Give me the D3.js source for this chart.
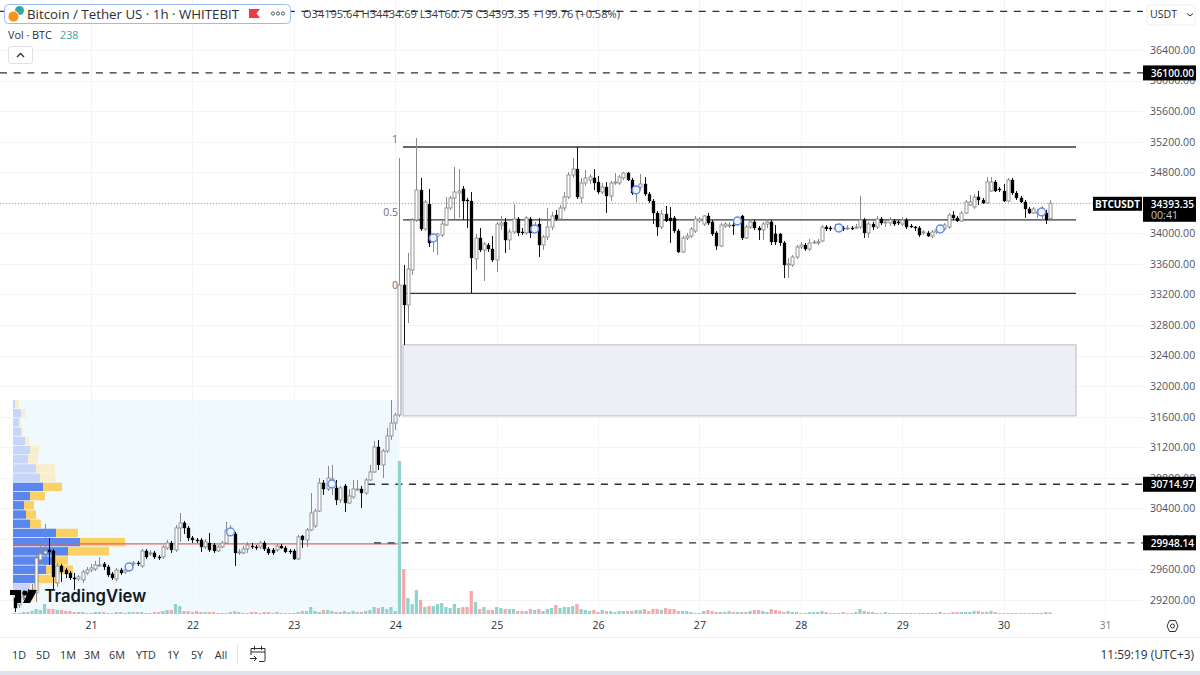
<!DOCTYPE html>
<html>
<head>
<meta charset="utf-8">
<title>Bitcoin / Tether US 1h</title>
<style>
    html, body { margin: 0; padding: 0; background: #fff; overflow: hidden; }
    svg { display: block; font-family: "Open Sans", sans-serif; }
</style>
</head>
<body>
<svg id="chart" width="1200" height="675"></svg>
<script src="https://d3js.org/d3.v7.min.js"></script>
<script>
// hourly candles (first one is 20 Oct 06:00)
var opens = [
    29227,29135,29240,29305,29253,29292,29724,29803,29855,29842,
    29423,29646,29593,29554,29489,29475,29462,29554,29593,29606,
    29646,29672,29633,29541,29475,29593,29567,29593,29672,29685,
    29646,29842,29803,29816,29763,29763,29881,29946,29855,30143,
    30209,30143,30012,29986,29986,29894,29946,29920,29842,29894,
    29946,30065,30065,29816,29816,29868,29907,29894,29894,29946,
    29868,29855,29855,29907,29881,29842,29842,29737,30038,29986,
    30117,30169,30365,30732,30653,30706,30667,30509,30693,30470,
    30549,30640,30653,30601,30771,30876,31203,30968,31151,31347,
    31517,31622,33324,33062,33520,34175,34567,34057,34384,33913,
    33965,33978,34109,34332,34463,34528,34581,34436,34423,33664,
    33939,33782,33847,33795,33651,34109,34149,33913,34018,34188,
    34018,34005,34188,34044,34122,33847,33952,34083,34240,34188,
    34332,34476,34764,34842,34463,34659,34698,34725,34672,34541,
    34607,34489,34659,34659,34725,34790,34698,34528,34607,34646,
    34515,34423,34266,34083,34253,34201,34201,34031,33756,33939,
    33965,34031,34162,34122,34227,34149,34005,33834,34096,34096,
    34109,34135,34227,33939,34083,34149,34070,34044,34122,34149,
    33992,33992,33874,33586,33586,33690,33821,33847,33795,33874,
    33874,33900,34083,34070,34057,34057,34070,34057,34070,34070,
    34083,34175,34005,34122,34083,34188,34135,34135,34162,34149,
    34122,34175,34096,34083,34070,34005,34005,33965,34018,34044,
    34057,34083,34240,34201,34162,34266,34371,34345,34476,34436,
    34397,34554,34672,34581,34554,34423,34698,34528,34463,34410,
    34319,34266,34266,34266,34266,34195.64
];
var highs = [
    29266,29292,29332,29345,29410,29790,29920,30195,30012,29868,
    29685,29672,29620,29580,29554,29528,29593,29633,29672,29711,
    29763,29698,29659,29567,29620,29620,29620,29659,29711,29711,
    29868,29868,29855,29842,29790,29920,29986,29973,30182,30339,
    30235,30169,30038,30012,30012,29999,30078,29946,29920,29973,
    30222,30182,30091,29868,29907,29960,29946,29920,29973,29973,
    29894,29881,29933,29933,29907,29868,29868,30052,30052,30143,
    30600,30392,30797,30771,30955,30968,30771,30693,30719,30653,
    30771,30771,30693,30797,30968,31282,31295,31177,31452,31818,
    31648,34986,33586,33743,34201,35248,34725,34436,34581,34005,
    34005,34162,34476,34489,34868,34842,34620,34463,34541,33992,
    34070,33887,33874,33965,34149,34227,34201,34057,34384,34214,
    34070,34227,34214,34149,34201,33978,34332,34280,34306,34371,
    34541,34803,34986,35130,34725,34829,34777,34842,34751,34659,
    34672,34685,34790,34764,34803,34803,34725,34633,34777,34738,
    34541,34450,34293,34306,34358,34345,34227,34057,33965,34005,
    34083,34227,34214,34240,34266,34175,34031,34135,34149,34149,
    34135,34201,34240,34109,34188,34175,34096,34149,34188,34175,
    34109,34005,33900,33677,33716,33847,33887,33874,33926,33913,
    33926,34109,34109,34096,34122,34096,34096,34109,34096,34122,
    34489,34201,34149,34149,34227,34214,34175,34214,34188,34175,
    34214,34201,34122,34096,34096,34044,34031,34044,34070,34109,
    34135,34266,34293,34227,34293,34436,34502,34515,34554,34463,
    34738,34738,34698,34607,34646,34725,34725,34554,34489,34436,
    34345,34345,34319,34358,34306,34434.69
];
var lows = [
    29043,29095,29200,29240,29213,29174,29685,29659,29659,29332,
    29371,29436,29489,29462,29332,29449,29423,29528,29567,29580,
    29633,29593,29502,29462,29449,29528,29541,29567,29646,29646,
    29620,29737,29777,29737,29724,29737,29855,29816,29829,29960,
    30065,29973,29946,29946,29829,29868,29829,29816,29829,29881,
    29933,30052,29646,29790,29803,29816,29868,29855,29868,29842,
    29790,29790,29829,29868,29816,29803,29724,29724,29881,29894,
    30104,30143,30352,30575,30627,30575,30444,30470,30352,30457,
    30523,30627,30405,30575,30758,30863,30902,30797,31125,31295,
    31426,31596,32539,32826,33455,34149,34031,34031,33821,33756,
    33716,33952,34096,34306,34188,34201,34175,34070,33219,33520,
    33756,33376,33756,33625,33494,34044,33743,33782,33992,33965,
    33978,33978,33939,34018,33690,33782,33913,34044,34162,34162,
    34293,34450,34725,34450,34397,34620,34646,34567,34515,34515,
    34266,34423,34633,34633,34698,34685,34502,34410,34567,34489,
    34397,34122,33965,34057,34149,33874,34005,33743,33743,33913,
    33939,34005,34135,34096,34109,33965,33782,33821,34070,34070,
    33978,34096,33913,33926,34057,34044,33913,33913,34070,33847,
    33847,33834,33415,33415,33560,33664,33795,33769,33769,33861,
    33847,33887,34031,34031,34031,34031,34031,34044,34044,34057,
    34057,33939,33939,34044,34057,34109,34083,34096,34096,34109,
    34096,34057,34070,34031,33952,33978,33952,33939,33992,34018,
    34031,34057,34175,34149,34149,34253,34358,34319,34371,34384,
    34384,34541,34541,34541,34410,34410,34502,34436,34397,34201,
    34253,34253,34201,34175,34122,34160.75
];
var closes = [
    29095,29253,29305,29253,29332,29750,29803,29842,29829,29502,
    29646,29567,29541,29489,29475,29502,29567,29593,29620,29659,
    29659,29633,29528,29489,29593,29554,29593,29633,29685,29672,
    29842,29763,29816,29763,29750,29894,29946,29855,30143,30209,
    30143,30012,29986,29973,29894,29960,29855,29842,29894,29946,
    30117,30091,29816,29829,29868,29920,29894,29881,29946,29868,
    29816,29816,29907,29881,29829,29829,29737,30025,29986,30117,
    30339,30365,30732,30653,30797,30784,30509,30667,30470,30562,
    30653,30653,30601,30771,30876,31203,30968,31151,31347,31517,
    31622,33324,33062,33533,34175,34567,34057,34410,33874,33939,
    33992,34122,34332,34463,34541,34554,34423,34423,33677,33939,
    33782,33861,33795,33651,34122,34135,33913,34018,34188,34005,
    34005,34201,34005,34083,33847,33952,34083,34227,34188,34332,
    34476,34764,34842,34476,34659,34725,34738,34659,34541,34607,
    34489,34659,34672,34738,34790,34698,34528,34567,34646,34515,
    34423,34266,34083,34253,34162,34162,34031,33756,33939,33965,
    34057,34188,34188,34227,34135,33992,33834,34109,34122,34109,
    34096,34162,33939,34083,34149,34070,34044,34122,34149,33887,
    33887,33874,33586,33599,33690,33821,33847,33795,33874,33887,
    33887,34083,34057,34057,34070,34070,34057,34070,34057,34083,
    34175,34005,34122,34083,34188,34135,34149,34175,34122,34135,
    34175,34083,34083,34070,33978,34018,33965,34018,34044,34057,
    34109,34240,34201,34162,34266,34410,34410,34476,34436,34397,
    34672,34672,34554,34567,34423,34698,34528,34463,34410,34319,
    34266,34319,34280,34280,34175,34393.35
];
var volumes = [
    140,140,280,280,420,700,560,1400,700,700,
    560,560,420,420,280,280,280,140,140,280,
    280,280,140,140,280,280,140,280,280,280,
    280,140,140,280,280,420,560,560,1400,1120,
    420,420,280,420,280,280,280,280,140,140,
    140,280,420,280,140,140,280,280,140,280,
    280,140,280,140,140,140,140,280,420,420,
    980,420,280,560,560,420,280,280,420,280,
    420,280,280,420,560,980,840,980,700,980,
    420,21420,6300,2240,1400,3360,1960,980,1120,1120,
    1400,1540,980,840,1400,840,980,980,3220,1680,
    700,980,560,560,980,840,700,700,700,420,
    420,420,700,560,700,420,700,840,1260,840,
    980,980,1120,1400,700,560,420,560,280,560,
    420,420,280,420,420,420,420,560,560,700,
    420,700,700,560,840,700,700,420,420,420,
    280,140,140,420,560,420,280,280,280,420,
    280,280,280,280,420,560,560,420,280,700,
    560,420,280,420,280,280,140,140,280,280,
    280,420,280,140,140,140,280,140,140,280,
    700,420,280,280,140,140,280,140,140,140,
    140,140,140,140,140,140,140,140,140,280,
    140,140,280,280,280,280,280,420,420,280,
    280,420,280,140,140,140,140,140,140,140,
    140,140,140,140,280,238
];

// visible range volume profile, top row first
var vpUp = [2,8,6,8,12,17,15,23,27,30,17,11,13,17,43,67,55,41,33,24,17,7];
var vpDown = [4,5,2,2,4,9,10,19,15,19,15,10,10,11,22,45,41,14,27,21,10,15];
var vpValueArea = [9, 19]; // rows that are drawn solid
var vpTop = 31820, vpRowSize = 120.5;
var pocPrice = 29935;

// 34400 sits fully under the last price tag, so it gets no label
var priceTicks = [36400,36000,35600,35200,34800,34000,33600,33200,32800,32400,32000,31600,31200,30800,30400,30000,29600,29200];
var dayLabels = ["21","22","23","24","25","26","27","28","29","30","31"];
var dayIndex = [18,42,66,90,114,138,162,186,210,234,258];
var markerIndex = [3,27,51,75,99,123,147,171,195,219,243];
var markerPrice = [29253,29633,30091,30719,33939,34057,34567,34162,34070,34057,34280];

var fibLevels = [35130, 34175, 33215];
var fibLabels = ["1", "0.5", "0"];
var zoneTop = 32540, zoneBottom = 31610;
var dashedLevels = [36905, 36100, 30714.97, 29948.14];
var dashedLabels = ["", "36100.00", "30714.97", "29948.14"];
var dashedStart = [0, 0, 368, 374];
var lastPrice = 34393.35;
var rangeButtons = ["1D","5D","1M","3M","6M","YTD","1Y","5Y","All"];
var rangeButtonX = [19,43,68,92,117,146,173,197,221];

var svg = d3.select("#chart");
var chartRight = 1143;

var x = d3.scaleLinear().domain([0, 245]).range([15, 1050.1]);
var y = d3.scaleLinear().domain([29200, 36400]).range([600, 50]);
var volY = d3.scaleLinear().domain([0, 21420]).range([614, 461]);
var vpX = d3.scaleLinear().domain([0, 112]).range([13, 125]);

var UP_VOL = "#92d2cc", DOWN_VOL = "#f7a9a7";

// grid
var grid = svg.append("g");
grid.selectAll(".h").data(priceTicks.concat([34400])).enter().append("line")
    .attr("x1", 0).attr("x2", chartRight)
    .attr("y1", function(d) { return Math.round(y(d)) + 0.5; })
    .attr("y2", function(d) { return Math.round(y(d)) + 0.5; })
    .attr("stroke", "#f2f4f8");
grid.selectAll(".v").data(dayIndex).enter().append("line")
    .attr("y1", 0).attr("y2", 614)
    .attr("x1", function(d) { return Math.round(x(d)) + 0.5; })
    .attr("x2", function(d) { return Math.round(x(d)) + 0.5; })
    .attr("stroke", "#f2f4f8");

// volume profile background and rows
svg.append("rect")
    .attr("x", 13).attr("width", x(91) - 13)
    .attr("y", y(vpTop)).attr("height", 614 - y(vpTop))
    .attr("fill", "#eaf7fd").attr("fill-opacity", 0.7);

var rowH = y(vpTop - vpRowSize) - y(vpTop);
var inVA = function(i) { return i >= vpValueArea[0] && i <= vpValueArea[1]; };
var vp = svg.append("g");
vp.selectAll(".up").data(vpUp).enter().append("rect")
    .attr("x", vpX(0))
    .attr("y", function(d, i) { return y(vpTop) + i * rowH; })
    .attr("width", function(d) { return vpX(d) - vpX(0); })
    .attr("height", rowH - 0.8)
    .attr("fill", function(d, i) { return inVA(i) ? "#5b86ee" : "#c7d5fb"; });
vp.selectAll(".down").data(vpDown).enter().append("rect")
    .attr("x", function(d, i) { return vpX(vpUp[i]); })
    .attr("y", function(d, i) { return y(vpTop) + i * rowH; })
    .attr("width", function(d) { return vpX(d) - vpX(0); })
    .attr("height", rowH - 0.8)
    .attr("fill", function(d, i) { return inVA(i) ? "#fbd163" : "#f9eecb"; });

svg.append("line")
    .attr("x1", 13).attr("x2", x(91))
    .attr("y1", y(pocPrice)).attr("y2", y(pocPrice))
    .attr("stroke", "#e8625c").attr("stroke-width", 1.2);

// grey zone under the range
svg.append("rect")
    .attr("x", 403).attr("width", 1076 - 403)
    .attr("y", y(zoneTop)).attr("height", y(zoneBottom) - y(zoneTop))
    .attr("fill", "#eeeff4").attr("stroke", "#b9bcc6");

// last price line
svg.append("line")
    .attr("x1", 0).attr("x2", 1093)
    .attr("y1", y(lastPrice)).attr("y2", y(lastPrice))
    .attr("stroke", "#9a9ea8").attr("stroke-dasharray", "1 2");

// dashed levels
svg.selectAll(".lvl").data(dashedLevels).enter().append("line")
    .attr("x1", function(d, i) { return dashedStart[i]; })
    .attr("x2", chartRight)
    .attr("y1", function(d) { return y(d); })
    .attr("y2", function(d) { return y(d); })
    .attr("stroke", "#2a2e39").attr("stroke-width", 1.4)
    .attr("stroke-dasharray", "7 6.7");

// fib lines
svg.selectAll(".fib").data(fibLevels).enter().append("line")
    .attr("x1", 403).attr("x2", 1076)
    .attr("y1", function(d) { return y(d); })
    .attr("y2", function(d) { return y(d); })
    .attr("stroke", "#33363f").attr("stroke-width", 1.3);
svg.selectAll(".fibl").data(fibLabels).enter().append("text")
    .attr("x", 398)
    .attr("y", function(d, i) { return y(fibLevels[i]) - 4; })
    .attr("text-anchor", "end")
    .attr("font-size", 10.5).attr("fill", "#6a6d78")
    .text(function(d) { return d; });

// volume bars
svg.selectAll(".vol").data(volumes).enter().append("rect")
    .attr("x", function(d, i) { return x(i) - 1.6; })
    .attr("width", 3.2)
    .attr("y", function(d) { return volY(d); })
    .attr("height", function(d) { return volY(0) - volY(d); })
    .attr("fill", function(d, i) { return closes[i] >= opens[i] ? UP_VOL : DOWN_VOL; });

// candles
var candles = svg.append("g");
candles.selectAll("line").data(closes).enter().append("line")
    .attr("x1", function(d, i) { return Math.round(x(i)) + 0.5; })
    .attr("x2", function(d, i) { return Math.round(x(i)) + 0.5; })
    .attr("y1", function(d, i) { return y(highs[i]); })
    .attr("y2", function(d, i) { return y(lows[i]); })
    .attr("stroke", function(d, i) { return d >= opens[i] ? "#8a8a8a" : "#111"; });
candles.selectAll("rect").data(closes).enter().append("rect")
    .attr("x", function(d, i) { return Math.round(x(i)) - 1; })
    .attr("width", 3)
    .attr("y", function(d, i) { return y(Math.max(d, opens[i])); })
    .attr("height", function(d, i) { return Math.max(1, Math.abs(y(d) - y(opens[i]))); })
    .attr("fill", function(d, i) { return d >= opens[i] ? "#fff" : "#000"; })
    .attr("stroke", function(d, i) { return d >= opens[i] ? "#8a8a8a" : "#000"; })
    .attr("stroke-width", function(d, i) { return d >= opens[i] ? 0.9 : 0.3; });

// daily markers
svg.selectAll(".mark").data(markerIndex).enter().append("circle")
    .attr("cx", function(d) { return x(d); })
    .attr("cy", function(d, i) { return y(markerPrice[i]); })
    .attr("r", 3.9)
    .attr("fill", "#fff").attr("fill-opacity", 0.85)
    .attr("stroke", "#5f8cf2").attr("stroke-width", 1.5);

// price axis
var priceAxis = d3.axisRight(y).tickValues(priceTicks)
    .tickFormat(d3.format(".2f")).tickSize(0).tickPadding(0);
var pa = svg.append("g").attr("transform", "translate(1150,0)").call(priceAxis);
pa.select(".domain").remove();
pa.selectAll("text").attr("font-family", "'Open Sans', sans-serif").attr("font-size", 10.6).attr("fill", "#50535e");

// time axis
var timeAxis = d3.axisBottom(x).tickValues(dayIndex)
    .tickFormat(function(d, i) { return dayLabels[i]; }).tickSize(0).tickPadding(0);
var ta = svg.append("g").attr("transform", "translate(0,621)").call(timeAxis);
ta.select(".domain").remove();
ta.selectAll("text").attr("font-family", "'Open Sans', sans-serif").attr("font-size", 10.6)
    .attr("fill", function(d, i) { return i == dayLabels.length - 1 ? "#7c7f89" : "#2a2e39"; });

// black price tags
var tags = svg.selectAll(".tag").data(dashedLevels.slice(1)).enter().append("g")
    .attr("transform", function(d) { return "translate(1143," + (y(d) - 7.5) + ")"; });
tags.append("rect").attr("width", 53).attr("height", 15).attr("fill", "#000");
tags.append("text").attr("x", 51).attr("y", 11.3).attr("text-anchor", "end")
    .attr("font-size", 10.1).attr("font-weight", 600).attr("fill", "#fff")
    .text(function(d, i) { return dashedLabels[i + 1]; });

svg.append("rect").attr("x", 1093).attr("y", y(lastPrice) - 6.5).attr("width", 49).attr("height", 14).attr("fill", "#000");
svg.append("text").attr("x", 1117.5).attr("y", y(lastPrice) + 4.5).attr("text-anchor", "middle")
    .attr("font-size", 10).attr("font-weight", 700).attr("fill", "#fff").text("BTCUSDT");
svg.append("rect").attr("x", 1143).attr("y", y(lastPrice) - 6.5).attr("width", 53).attr("height", 25).attr("fill", "#000");
svg.append("text").attr("x", 1194).attr("y", y(lastPrice) + 4.5).attr("text-anchor", "end")
    .attr("font-size", 10.1).attr("font-weight", 600).attr("fill", "#fff").text(d3.format(".2f")(lastPrice));
svg.append("text").attr("x", 1151).attr("y", y(lastPrice) + 15.5)
    .attr("font-size", 10.6).attr("fill", "#c8cad0").text("00:41");

// TradingView watermark
var logo = svg.append("g").attr("transform", "translate(10,590)");
logo.append("path").attr("fill", "#000").attr("d", "M0 0H11V13H5V5H0Z");
logo.append("circle").attr("cx", 15).attr("cy", 3).attr("r", 2.6).attr("fill", "#000");
logo.append("path").attr("fill", "#000").attr("d", "M19 0H27L20 13H13Z");
svg.append("text").attr("x", 44.5).attr("y", 602).attr("font-family", "Inter, 'Open Sans', sans-serif")
    .attr("font-size", 16.7).attr("font-weight", 600).attr("fill", "#131722").text("TradingView");

// header
svg.append("rect").attr("x", 4.5).attr("y", 4.5).attr("width", 286).attr("height", 19).attr("rx", 4)
    .attr("fill", "#fff").attr("stroke", "#9db9f3");
svg.append("circle").attr("cx", 19.5).attr("cy", 10.5).attr("r", 4.5).attr("fill", "#35a79b");
svg.append("circle").attr("cx", 13.5).attr("cy", 16.5).attr("r", 5.5).attr("fill", "#f7931a").attr("stroke", "#fff");
svg.append("text").attr("x", 27).attr("y", 19).attr("font-size", 13.3).attr("fill", "#2a2e39")
    .text("Bitcoin / Tether US · 1h · WHITEBIT");
svg.append("path").attr("fill", "#f23645").attr("d", "M249 9H260L256.5 13.5L260 18H249Z");
[273, 278, 283].forEach(function(cx) {
    svg.append("circle").attr("cx", cx).attr("cy", 13.5).attr("r", 1.6).attr("fill", "none").attr("stroke", "#50535e");
});
svg.append("text").attr("x", 303).attr("y", 18).attr("font-size", 11.05).attr("fill", "#3a3d47")
    .text("O34195.64 H34434.69 L34160.75 C34393.35 +199.76 (+0.58%)");
svg.append("text").attr("x", 8).attr("y", 38.5).attr("font-size", 10.8).attr("fill", "#2a2e39").text("Vol · BTC");
svg.append("text").attr("x", 60).attr("y", 38.5).attr("font-size", 10.8).attr("fill", "#3fa7a0").text("238");
svg.append("rect").attr("x", 8.5).attr("y", 46.5).attr("width", 24).attr("height", 17).attr("rx", 2)
    .attr("fill", "#fff").attr("stroke", "#dfe1e7");
svg.append("path").attr("d", "M17 57L20.5 53.5L24 57").attr("fill", "none").attr("stroke", "#2a2e39").attr("stroke-width", 1.3);

// currency button
svg.append("rect").attr("x", 1147).attr("y", 5).attr("width", 48).attr("height", 20).attr("rx", 3)
    .attr("fill", "#fff").attr("stroke", "#eceef2");
svg.append("text").attr("x", 1150).attr("y", 18).attr("font-size", 10.6).attr("fill", "#2a2e39").text("USDT");
svg.append("path").attr("d", "M1187 13.5L1190 16L1193 13.5").attr("fill", "none").attr("stroke", "#2a2e39");

// settings hexagon
svg.append("path").attr("d", "M1167 626L1169.5 620.5H1175.5L1178 626L1175.5 631.5H1169.5Z")
    .attr("fill", "none").attr("stroke", "#2a2e39");
svg.append("circle").attr("cx", 1172.5).attr("cy", 626).attr("r", 2).attr("fill", "none").attr("stroke", "#2a2e39");

// bottom toolbar
svg.append("line").attr("x1", 0).attr("x2", 1200).attr("y1", 637.5).attr("y2", 637.5).attr("stroke", "#eceef2");
svg.selectAll(".range").data(rangeButtons).enter().append("text")
    .attr("x", function(d, i) { return rangeButtonX[i]; })
    .attr("y", 658.5).attr("text-anchor", "middle")
    .attr("font-size", 10.8).attr("fill", "#2a2e39")
    .text(function(d) { return d; });
svg.append("line").attr("x1", 237.5).attr("x2", 237.5).attr("y1", 645).attr("y2", 664).attr("stroke", "#e0e3eb");
svg.append("path").attr("fill", "none").attr("stroke", "#2a2e39")
    .attr("d", "M251 655V648.5H265V660.5Q265 661.5 264 661.5H259M251 652H265M254.5 646V650M261.5 646V650M250 658.5H256M254 656L256.5 658.5L254 661");
svg.append("text").attr("x", 1194).attr("y", 658.5).attr("text-anchor", "end")
    .attr("font-size", 11.9).attr("fill", "#2a2e39").text("11:59:19 (UTC+3)");
svg.append("rect").attr("x", 0).attr("y", 671).attr("width", 1200).attr("height", 4).attr("fill", "#e0e3eb");
</script>
</body>
</html>
